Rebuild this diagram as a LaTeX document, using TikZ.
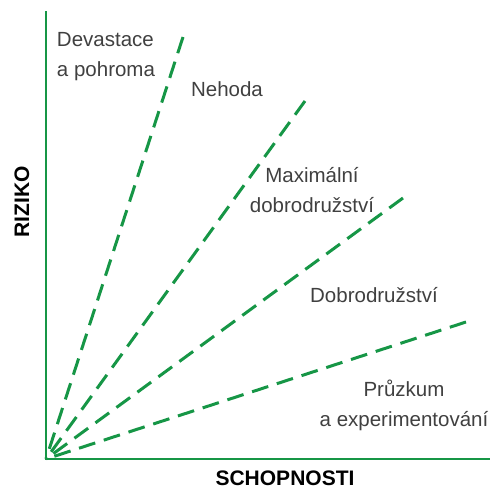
\documentclass[tikz,border=0pt]{standalone}
\usepackage{fontspec}
\setmainfont{Liberation Sans}
\definecolor{osa}{RGB}{22,150,70}
\definecolor{txt}{RGB}{64,64,64}
\tikzset{
  osy/.style={draw=osa, line width=2.6pt},
  hranice/.style={draw=osa, line width=3pt, dashed, dash pattern=on 17pt off 9pt},
  popis/.style={text=txt, font=\fontsize{20.5}{30}\selectfont, align=center, inner sep=0pt},
  nadpis/.style={text=black, font=\fontsize{21}{24}\selectfont\bfseries, inner sep=0pt}
}
\begin{document}
\begin{tikzpicture}[x=1pt, y=-1pt]
        \useasboundingbox (0,0) rectangle (491,490);
        % Osy grafu
        \coordinate (O) at (46,459);
        \coordinate (Ynahore) at (46,11);
        \coordinate (Xvpravo) at (490,459);
        \draw[osy] (Ynahore) -- (O) -- (Xvpravo);

        % Koncove body carkovanych hranic (kresleno od konce k pocatku)
        \coordinate (K1) at (183,37);
        \coordinate (K2) at (305,101);
        \coordinate (K3) at (403,198);
        \coordinate (K4) at (466,322);
        \draw[hranice] (K1) -- (O);
        \draw[hranice] (K2) -- (O);
        \draw[hranice] (K3) -- (O);
        \draw[hranice] (K4) -- (O);

        % Popisky oblasti
        \node[popis, align=left] (devastace) at (106,57) {Devastace\\a pohroma};
        \node[popis] (nehoda) at (227,89) {Nehoda};
        \node[popis] (maximalni) at (312,190) {Maximální\\dobrodružství};
        \node[popis] (dobrodruzstvi) at (374,295) {Dobrodružství};
        \node[popis] (pruzkum) at (404,405) {Průzkum\\a experimentování};

        % Nazvy os
        \node[nadpis] (schopnosti) at (285,478) {SCHOPNOSTI};
        \node[nadpis, rotate=90] (riziko) at (22,202) {RIZIKO};
    \end{tikzpicture}
\end{document}
